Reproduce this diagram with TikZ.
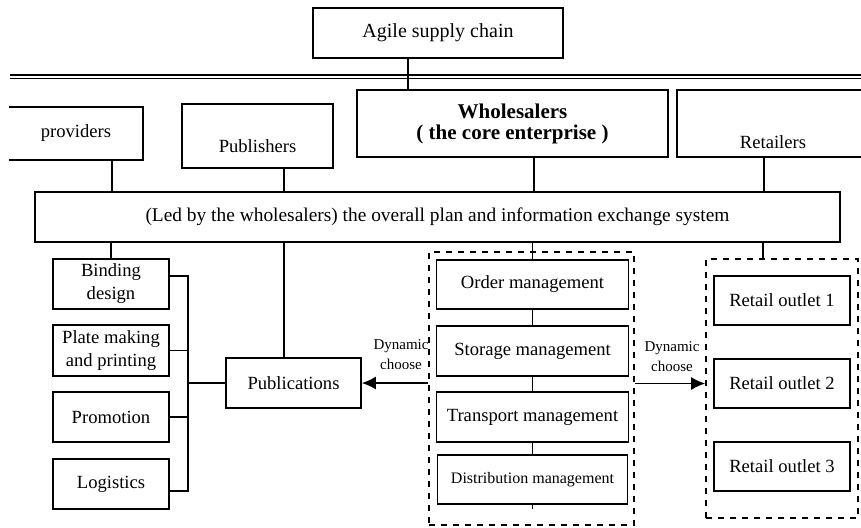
\documentclass[tikz,border=0pt]{standalone}
\usepackage{fontspec}
\setmainfont{Liberation Serif}[BoldFont={Liberation Serif Bold}]
\usetikzlibrary{arrows.meta}

\tikzset{
  blk/.style={draw, line width=0.8pt, inner sep=1pt, align=center, font=\fontsize{9.3}{11.5}\selectfont},
  dashblk/.style={draw, dashed, line width=0.8pt, inner sep=0pt},
  conn/.style={line width=0.8pt},
  choosearrow/.style={conn, -{Latex[length=7pt,width=6.5pt]}},
  dyn/.style={inner sep=0pt, align=center, font=\fontsize{7.5}{10}\selectfont}
}

\begin{document}
\begin{tikzpicture}[x=0.5pt, y=-0.5pt]
            \useasboundingbox (0,0) rectangle (861,527);

            \node[blk, minimum width=125pt, minimum height=25pt, font=\fontsize{10}{12}\selectfont] (agile) at (438,33) {Agile supply chain};
            \draw[conn] (10,75) -- (870,75);
            \draw[conn] (10,78.5) -- (870,78.5);

            \node[blk, draw=none, minimum width=66pt, minimum height=25.5pt] (providers) at (76,133.5) {providers};
            \draw[conn] (providers.north west) -- (providers.north east) -- (providers.south east) -- (providers.south west);
            \node[blk, minimum width=75.5pt, minimum height=32pt] (publishers) at (257.5,136) {\mbox{}\\[5pt]Publishers};
            \node[blk, minimum width=155.5pt, minimum height=33.5pt, font=\bfseries\fontsize{10.5}{10.5}\selectfont] (wholesalers) at (512.5,123.5) {Wholesalers\\( the core enterprise )};
            \node[blk, minimum width=96pt, minimum height=33.5pt] (retailers) at (773,123.5) {\strut\\[6pt]Retailers};

            \draw[conn] ([xshift=-15pt]agile.south) coordinate (a0) -- (a0 |- wholesalers.north);

            \node[blk, minimum width=402.5pt, minimum height=25pt, font=\fontsize{9.7}{11}\selectfont] (plan) at (437.5,217) {(Led by the wholesalers) the overall plan and information exchange system};

            \draw[conn] ([xshift=18pt]providers.south) coordinate (p1) -- (p1 |- plan.north);
            \draw[conn] ([xshift=13.25pt]publishers.south) coordinate (p2) -- (p2 |- plan.north);
            \draw[conn] ([xshift=10.75pt]wholesalers.south) coordinate (p3) -- (p3 |- plan.north);
            \draw[conn] ([xshift=-4.5pt]retailers.south) coordinate (p4) -- (p4 |- plan.north);

            \node[blk, minimum width=58pt, minimum height=25pt] (binding) at (111,284) {Binding\\design};
            \node[blk, minimum width=58pt, minimum height=25.5pt] (plate) at (111,350.5) {Plate making\\and printing};
            \node[blk, minimum width=58pt, minimum height=25pt] (promotion) at (111,417) {Promotion};
            \node[blk, minimum width=58pt, minimum height=25pt] (logistics) at (111,484) {Logistics};
            \node[blk, minimum width=67.5pt, minimum height=25pt] (publications) at (293.5,383) {Publications};

            \draw[conn] (binding.north |- plan.south) -- (binding.north);
            \coordinate (bustop) at (188,276);
            \coordinate (busbot) at (188,491);
            \draw[conn] ([yshift=4pt]binding.east) -- (bustop) -- (busbot) -- ([yshift=-3.5pt]logistics.east);
            \draw[conn] (plate.east) -- (plate.east -| bustop);
            \draw[conn] (promotion.east) -- (promotion.east -| bustop);
            \draw[conn] (publications.west) -- (publications.west -| bustop);
            \draw[conn] ([xshift=-4.75pt]publications.north) coordinate (p5) -- (p5 |- plan.south);

            \node[dashblk, minimum width=102.5pt, minimum height=136.5pt] (wbox) at (531.5,388.5) {};
            \node[blk, minimum width=96pt, minimum height=24.5pt] (order) at (532.5,284.5) {Order management};
            \node[blk, minimum width=96pt, minimum height=25pt] (storage) at (532.5,351) {Storage management};
            \node[blk, minimum width=96pt, minimum height=25pt] (transport) at (532.5,417) {Transport management};
            \node[blk, minimum width=95pt, minimum height=24.5pt, font=\fontsize{8}{10}\selectfont] (distribution) at (532.5,479.5) {Distribution management};

            \draw[conn] (order.north |- plan.south) -- (order.north);
            \draw[conn] (order.south) -- (storage.north);
            \draw[conn] (storage.south) -- (transport.north);
            \draw[conn] (transport.south) -- (distribution.north);
            \draw[conn] (distribution.south) -- ++(0,4);

            \node[dashblk, minimum width=76pt, minimum height=129.5pt] (rbox) at (782,388.5) {};
            \node[blk, minimum width=68pt, minimum height=24.5pt] (outlet1) at (782,300.5) {Retail outlet 1};
            \node[blk, minimum width=68pt, minimum height=24.5pt] (outlet2) at (782,383.5) {Retail outlet 2};
            \node[blk, minimum width=68pt, minimum height=24.5pt] (outlet3) at (782,466.5) {Retail outlet 3};
            \draw[conn] ([xshift=-9.5pt]rbox.north) coordinate (p6) -- (p6 |- plan.south);

            \draw[choosearrow] (wbox.west |- publications.east) -- (publications.east);
            \draw[choosearrow] (wbox.east |- outlet2.west) -- (rbox.west |- outlet2.west);
            \node[dyn] (dynleft) at (401,355) {Dynamic\\choose};
            \node[dyn] (dynright) at (672,357) {Dynamic\\choose};
        \end{tikzpicture}
\end{document}
